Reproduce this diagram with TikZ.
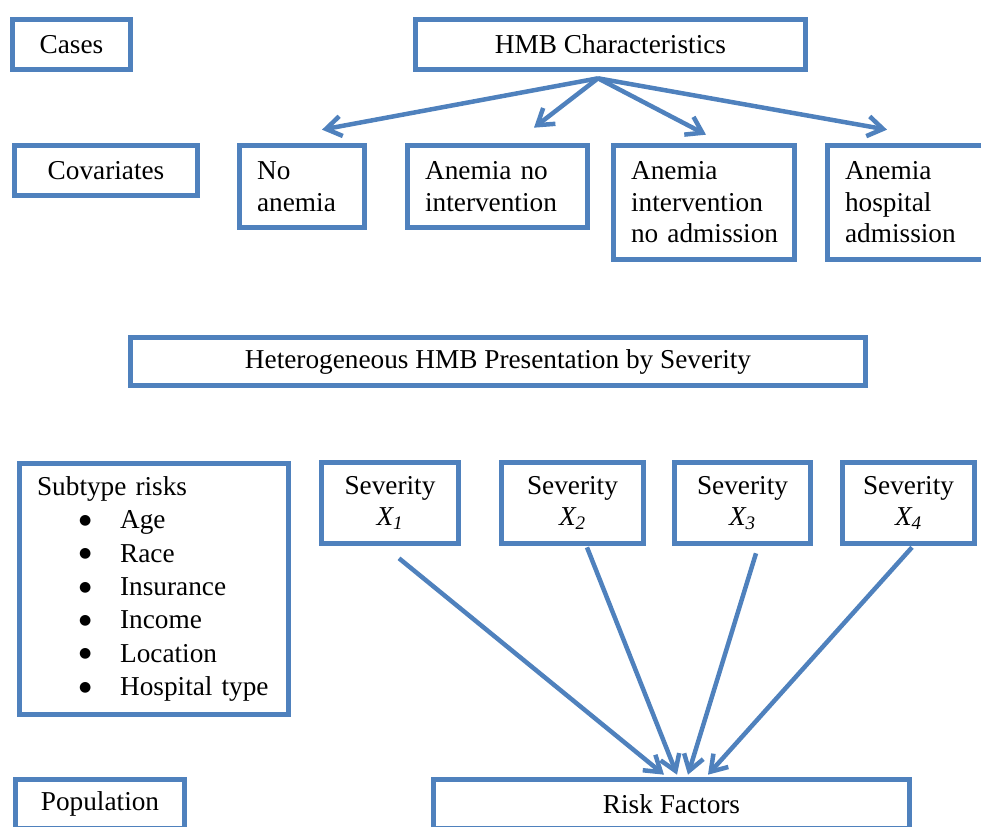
\documentclass[tikz,border=0pt]{standalone}
\usepackage{fontspec}
\setmainfont{Liberation Serif}
\newfontfamily\dotfont{DejaVu Sans}
\usetikzlibrary{arrows.meta}
\definecolor{boxblue}{RGB}{79,129,189}
\newcommand{\riskitem}[1]{\hspace*{1.05cm}\makebox[1.025cm][l]{\raisebox{3pt}{\dotfont\fontsize{10}{10}\selectfont ●}}#1}

\begin{document}
\begin{tikzpicture}[x=0.025cm, y=-0.025cm,
  box/.style = {draw=boxblue, line width=4pt, inner sep=0pt, font=\fontsize{19.4}{22.4}\selectfont},
  lbox/.style = {box, align=left, inner xsep=0.44cm},
  arr/.style = {draw=boxblue, line width=3.2pt, -{Straight Barb[length=0.38cm, width=0.5cm]}}]
  \useasboundingbox (0,0) rectangle (981,827);
  \node[box, minimum width=2.95cm, minimum height=1.25cm] (cases) at (71.5,44.5) {Cases};
  \node[box, minimum width=9.75cm, minimum height=1.25cm] (hmb) at (610.5,44.5) {HMB Characteristics};
  \node[box, minimum width=4.575cm, minimum height=1.25cm] (cov) at (106,170.5) {Covariates};
  \node[lbox, text width=2.245cm, minimum height=2.05cm] (noan) at (302,186.5) {No\\anemia};
  \node[lbox, text width=3.62cm, minimum height=2.05cm] (anno) at (497.5,186.5) {Anemia no\\intervention};
  \node[lbox, text width=3.645cm, minimum height=2.85cm] (anint) at (704,202.5) {Anemia\\intervention\\\mbox{no admission}};
  \node[lbox, text width=3.37cm, minimum height=2.85cm] (anhosp) at (912.5,202.5) {Anemia\\hospital\\admission};
  \node[box, minimum width=18.375cm, minimum height=1.2cm] (het) at (498,361.5) {Heterogeneous HMB Presentation by Severity};
  \node[lbox, text width=5.845cm, minimum height=6.275cm, font=\fontsize{19.4}{23.7}\selectfont] (sub) at (154,589)
    {Subtype risks\\ \riskitem{Age}\\ \riskitem{Race}\\ \riskitem{Insurance}\\ \riskitem{Income}\\ \riskitem{Location}\\ \riskitem{Hospital type}};
  \node[box, minimum width=3.425cm, minimum height=2.025cm, align=center] (sev1) at (390,503) {Severity\\ \textit{X\textsubscript{1}}};
  \node[box, minimum width=3.55cm, minimum height=2.025cm, align=center] (sev2) at (572.5,503) {Severity\\ \textit{X\textsubscript{2}}};
  \node[box, minimum width=3.4cm, minimum height=2.025cm, align=center] (sev3) at (742.5,503) {Severity\\ \textit{X\textsubscript{3}}};
  \node[box, minimum width=3.3cm, minimum height=2.025cm, align=center] (sev4) at (908.5,503) {Severity\\ \textit{X\textsubscript{4}}};
  \node[box, minimum width=4.225cm, minimum height=1.225cm] (pop) at (100,804) {Population};
  \node[box, minimum width=11.9cm, minimum height=1.225cm] (rf) at (671.5,804) {Risk Factors};
  \draw[arr] ([shift={(-12.5,6)}]hmb.south) -- ([shift={(20,-13)}]noan.north);
  \draw[arr] ([shift={(-12.5,6)}]hmb.south) -- ([shift={(36.5,-15)}]anno.north);
  \draw[arr] ([shift={(-12.5,6)}]hmb.south) -- ([shift={(2,-8)}]anint.north);
  \draw[arr] ([shift={(-12.5,6)}]hmb.south) -- ([shift={(-25.5,-13)}]anhosp.north);
  \draw[arr] ([shift={(9,12)}]sev1.south) -- ([shift={(-7.5,-2)}]rf.north);
  \draw[arr] ([shift={(14.5,1)}]sev2.south) -- ([shift={(5.5,-2)}]rf.north);
  \draw[arr] ([shift={(13.5,7)}]sev3.south) -- ([shift={(16.5,-2)}]rf.north);
  \draw[arr] ([shift={(3.5,1)}]sev4.south) -- ([shift={(36.5,-2)}]rf.north);
\end{tikzpicture}
\end{document}
